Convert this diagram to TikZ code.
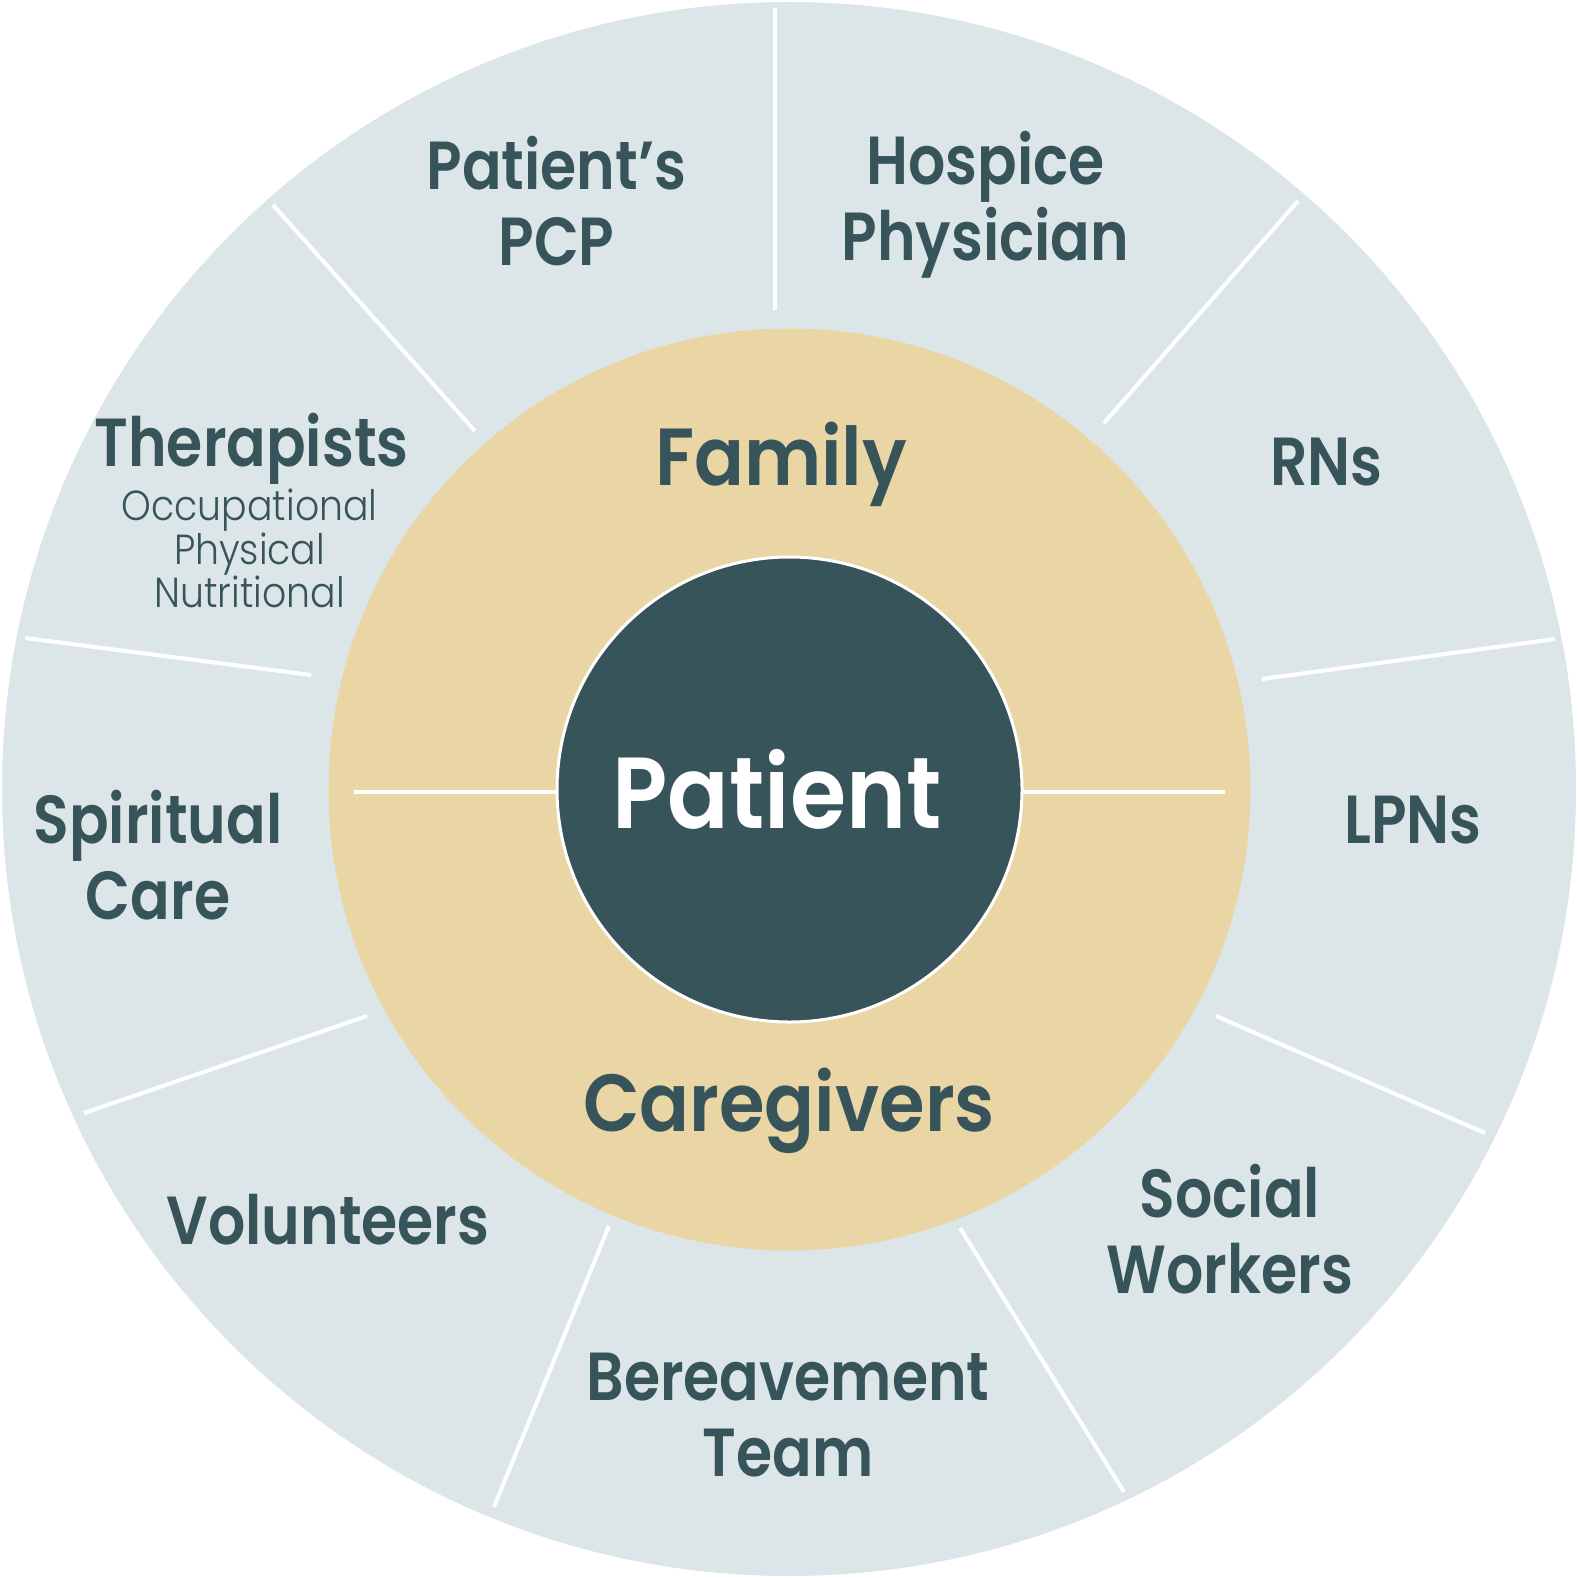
\documentclass[tikz,border=0pt]{standalone}
\usepackage{fontspec}
\setmainfont{Poppins}
\newfontfamily\lblfont{Poppins SemiBold}[FakeStretch=0.86]
\newfontfamily\bigfont{Poppins SemiBold}[FakeStretch=0.91]
\newfontfamily\patfont{Poppins SemiBold}[FakeStretch=0.90]
\newfontfamily\thinfont{Poppins Light}[FakeStretch=0.90]
\definecolor{ringin}{HTML}{DCE6E8}
\definecolor{ringout}{HTML}{E5EDEE}
\definecolor{beige}{HTML}{E9D6A4}
\definecolor{darkteal}{HTML}{38545B}
\pgfdeclareradialshading{ringshade}{\pgfpoint{0bp}{0bp}}{color(0bp)=(ringin); color(28bp)=(ringin); color(50bp)=(ringout)}
\tikzset{
  divider/.style={draw=white, line width=4pt},
  lbl/.style={inner sep=0pt, align=center, text=darkteal, font=\lblfont\fontsize{68}{76.5}\selectfont},
  biglbl/.style={inner sep=0pt, align=center, text=darkteal, font=\bigfont\fontsize{81}{90}\selectfont},
  sublbl/.style={inner sep=0pt, align=center, text=darkteal, font=\thinfont\fontsize{42}{42.3}\selectfont},
}
\begin{document}
\begin{tikzpicture}[x=1pt,y=-1pt]
\useasboundingbox (0,0) rectangle (1578,1578);
% outer ring
\shade[shading=ringshade] (789,789) circle (787);
% dividers in outer ring
\draw[divider] (775,8) -- (775,310);
\draw[divider] (273,205) -- (475,431);
\draw[divider] (25,638) -- (311,675);
\draw[divider] (84,1113) -- (367,1016);
\draw[divider] (494,1507) -- (609,1226);
\draw[divider] (960,1228) -- (1124,1492);
\draw[divider] (1216,1016) -- (1485,1133);
\draw[divider] (1262,679) -- (1555,639);
\draw[divider] (1104,423) -- (1298,201);
% middle circle
\node[circle, fill=beige, minimum size=922pt, inner sep=0pt] (mid) at (789.5,789.5) {};
\draw[divider] (354,792) -- (556,792);
\draw[divider] (1021,792) -- (1225,792);
% inner circle
\node[circle, fill=darkteal, draw=white, line width=3pt, minimum size=465pt, inner sep=0pt] (core) at (789.5,789.5) {};
% labels
\node[lbl] (pcp) at (556.5,200.8) {Patient’s\\PCP};
\node[lbl] (hosp) at (985.5,205) {Hospice\\Physician};
\node[lbl] (ther) at (251.6,449) {Therapists};
\node[sublbl] (thersub) at (249.6,548.5) {Occupational\\Physical\\Nutritional};
\node[lbl] (rns) at (1326.4,462.5) {RNs};
\node[lbl] (lpns) at (1413,820) {LPNs};
\node[lbl] (spir) at (158,855) {Spiritual\\Care};
\node[lbl] (vol) at (328,1220) {Volunteers};
\node[lbl] (ber) at (788,1415) {Bereavement\\Team};
\node[lbl] (soc) at (1229.8,1229) {Social\\Workers};
\node[biglbl] (fam) at (781,464) {Family};
\node[biglbl] (care) at (789,1111) {Caregivers};
\node[inner sep=0pt, text=white, font=\patfont\fontsize{101}{110}\selectfont] (pat) at (777,789.5) {Patient};
\end{tikzpicture}
\end{document}
